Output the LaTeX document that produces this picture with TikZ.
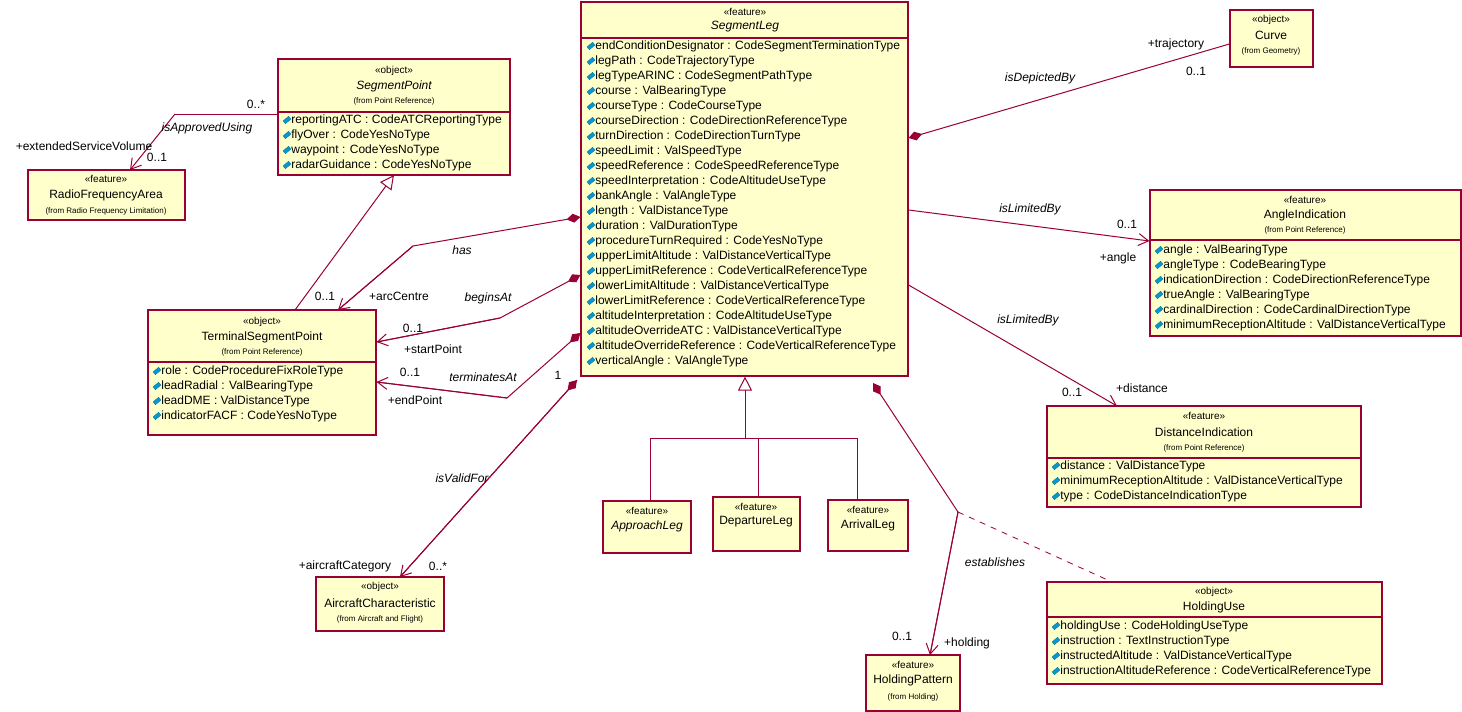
\documentclass[tikz,border=0pt]{standalone}
\usepackage{fontspec}
\setmainfont{Liberation Sans}
\usetikzlibrary{arrows.meta,fit}
\definecolor{umlred}{HTML}{990033}
\definecolor{umlfill}{HTML}{FFFFCC}
\tikzset{
  cls/.style={draw=umlred, fill=umlfill, inner sep=0pt, line width=0.6pt},
  sep/.style={draw=umlred, line width=0.6pt},
  stereo/.style={font=\fontsize{5}{6}\selectfont, inner sep=0pt},
  cname/.style={font=\fontsize{6}{7}\selectfont, inner sep=0pt},
  from/.style={font=\fontsize{4}{5}\selectfont, inner sep=0pt},
  attr/.style={font=\fontsize{6}{7}\selectfont, inner sep=0pt, anchor=west},
  icon/.style={fill=cyan!80!blue, draw=teal, line width=0.2pt, minimum width=3.6pt, minimum height=1.8pt, inner sep=0pt, rotate=40},
  lbl/.style={font=\fontsize{6}{7}\selectfont, inner sep=0pt},
  role/.style={font=\fontsize{6}{7}\selectfont\itshape, inner sep=0pt},
  assoc/.style={draw=umlred, line width=0.5pt},
  nav/.style={assoc, -{Straight Barb[length=5pt,width=6pt]}},
  comp/.style={assoc, {Diamond[length=7pt,width=4.5pt,fill=umlred]}-},
  gen/.style={assoc, -{Triangle[open,length=7pt,width=7pt,fill=white]}},
}
\newcommand{\attrs}[3]{%
  \foreach \t [count=\i from 0] in {#3} {
    \node[icon] at (#1+5,#2+15*\i) {};
    \node[attr] at (#1+9,#2+15*\i) {\t};
  }}
\begin{document}
\begin{tikzpicture}[x=0.5pt,y=-0.5pt]
\useasboundingbox (0,0) rectangle (1462,712);

% SegmentLeg
\node[cls, fit={(581,2) (908,376)}] (seg) {};
\node[stereo] at (745,12) {<<feature>>};
\node[cname,font=\fontsize{6}{7}\selectfont\itshape] at (745,27) {SegmentLeg};
\draw[sep] (seg.west |- 0,38) -- (seg.east |- 0,38);
\attrs{586}{46}{endConditionDesignator : CodeSegmentTerminationType,legPath : CodeTrajectoryType,legTypeARINC : CodeSegmentPathType,course : ValBearingType,courseType : CodeCourseType,courseDirection : CodeDirectionReferenceType,turnDirection : CodeDirectionTurnType,speedLimit : ValSpeedType,speedReference : CodeSpeedReferenceType,speedInterpretation : CodeAltitudeUseType,bankAngle : ValAngleType,length : ValDistanceType,duration : ValDurationType,procedureTurnRequired : CodeYesNoType,upperLimitAltitude : ValDistanceVerticalType,upperLimitReference : CodeVerticalReferenceType,lowerLimitAltitude : ValDistanceVerticalType,lowerLimitReference : CodeVerticalReferenceType,altitudeInterpretation : CodeAltitudeUseType,altitudeOverrideATC : ValDistanceVerticalType,altitudeOverrideReference : CodeVerticalReferenceType,verticalAngle : ValAngleType}

% SegmentPoint
\node[cls, fit={(278,59) (510,175)}] (segpt) {};
\node[stereo] at (394,71) {<<object>>};
\node[cname,font=\fontsize{6}{7}\selectfont\itshape] at (394,86) {SegmentPoint};
\node[from] at (394,101) {(from Point Reference)};
\draw[sep] (segpt.west |- 0,112) -- (segpt.east |- 0,112);
\attrs{282}{120}{reportingATC : CodeATCReportingType,flyOver : CodeYesNoType,waypoint : CodeYesNoType,radarGuidance : CodeYesNoType}

% RadioFrequencyArea
\node[cls, fit={(28,170) (185,220)}] (rfa) {};
\node[stereo] at (106,179) {<<feature>>};
\node[cname] at (106,195) {RadioFrequencyArea};
\node[from] at (106,211) {(from Radio Frequency Limitation)};

% TerminalSegmentPoint
\node[cls, fit={(148,310) (376,435)}] (tsp) {};
\node[stereo] at (262,322) {<<object>>};
\node[cname] at (262,337) {TerminalSegmentPoint};
\node[from] at (262,352) {(from Point Reference)};
\draw[sep] (tsp.west |- 0,362) -- (tsp.east |- 0,362);
\attrs{152}{371}{role : CodeProcedureFixRoleType,leadRadial : ValBearingType,leadDME : ValDistanceType,indicatorFACF : CodeYesNoType}

% Curve
\node[cls, fit={(1230,10) (1313,67)}] (curve) {};
\node[stereo] at (1271,20) {<<object>>};
\node[cname] at (1271,35) {Curve};
\node[from] at (1271,51) {(from Geometry)};

% AngleIndication
\node[cls, fit={(1150,190) (1461,336)}] (angle) {};
\node[stereo] at (1305,200) {<<feature>>};
\node[cname] at (1305,215) {AngleIndication};
\node[from] at (1305,230) {(from Point Reference)};
\draw[sep] (angle.west |- 0,240) -- (angle.east |- 0,240);
\attrs{1154}{250}{angle : ValBearingType,angleType : CodeBearingType,indicationDirection : CodeDirectionReferenceType,trueAngle : ValBearingType,cardinalDirection : CodeCardinalDirectionType,minimumReceptionAltitude : ValDistanceVerticalType}

% DistanceIndication
\node[cls, fit={(1047,406) (1361,507)}] (dist) {};
\node[stereo] at (1204,416) {<<feature>>};
\node[cname] at (1204,432) {DistanceIndication};
\node[from] at (1204,448) {(from Point Reference)};
\draw[sep] (dist.west |- 0,458) -- (dist.east |- 0,458);
\attrs{1051}{466}{distance : ValDistanceType,minimumReceptionAltitude : ValDistanceVerticalType,type : CodeDistanceIndicationType}

% sub legs
\node[cls, fit={(603,501) (691,553)}] (appr) {};
\node[stereo] at (647,511) {<<feature>>};
\node[cname,font=\fontsize{6}{7}\selectfont\itshape] at (647,526) {ApproachLeg};
\node[cls, fit={(713,497) (800,551)}] (dep) {};
\node[stereo] at (756,507) {<<feature>>};
\node[cname] at (756,522) {DepartureLeg};
\node[cls, fit={(828,500) (908,551)}] (arr) {};
\node[stereo] at (868,510) {<<feature>>};
\node[cname] at (868,525) {ArrivalLeg};

% AircraftCharacteristic
\node[cls, fit={(316,577) (444,631)}] (acft) {};
\node[stereo] at (380,587) {<<object>>};
\node[cname] at (380,603) {AircraftCharacteristic};
\node[from] at (380,619) {(from Aircraft and Flight)};

% HoldingUse
\node[cls, fit={(1047,582) (1382,684)}] (huse) {};
\node[stereo] at (1214,592) {<<object>>};
\node[cname] at (1214,607) {HoldingUse};
\draw[sep] (huse.west |- 0,617) -- (huse.east |- 0,617);
\attrs{1051}{626}{holdingUse : CodeHoldingUseType,instruction : TextInstructionType,instructedAltitude : ValDistanceVerticalType,instructionAltitudeReference : CodeVerticalReferenceType}

% HoldingPattern
\node[cls, fit={(866,655) (960,711)}] (hold) {};
\node[stereo] at (913,665) {<<feature>>};
\node[cname] at (913,680) {HoldingPattern};
\node[from] at (913,697) {(from Holding)};

% associations
\coordinate (bendHold) at (958,512);
\draw[comp] (seg.east |- 0,138) -- (curve.west |- 0,44);
\draw[assoc, -{Straight Barb[length=5pt,width=6pt]}] (seg.east |- 0,210) -- (angle.west |- 0,241);
\draw[nav] (seg.east |- 0,285) -- (1117,406);
\draw[comp] (873,383) -- (bendHold) -- (930,655);
\draw[nav] (bendHold) -- (930,655);
\draw[assoc, dashed, line width=0.4pt] (bendHold) -- (1112,582);
\draw[nav] (577,380) -- (400,577);
\draw[comp] (577,380) -- (400,577);
\draw[comp] (seg.west |- 0,333) -- (507,398) -- (tsp.east |- 0,382);
\draw[nav] (507,398) -- (tsp.east |- 0,382);
\draw[comp] (seg.west |- 0,275) -- (500,318) -- (tsp.east |- 0,342);
\draw[nav] (500,318) -- (tsp.east |- 0,342);
\draw[comp] (seg.west |- 0,217) -- (413,246) -- (338,310);
\draw[nav] (413,246) -- (338,310);
\draw[gen] (295,310) -- (394,175);
\coordinate (rfaBend) at (175,114);
\draw[assoc] (segpt.west |- 0,114) -- (rfaBend);
\draw[nav] (rfaBend) -- (130,170);

% generalisation tree
\draw[gen] (745,438) -- (seg.south -| 745,0);
\draw[assoc] (650,438) -- (857,438);
\draw[assoc] (650,438) -- (appr.north -| 650,0);
\draw[assoc] (758,438) -- (dep.north -| 758,0);
\draw[assoc] (857,438) -- (arr.north -| 857,0);

% labels
\node[role] at (1040,78) {isDepictedBy};
\node[lbl] at (1176,44) {+trajectory};
\node[lbl] at (1196,71) {0..1};
\node[role] at (1030,209) {isLimitedBy};
\node[lbl] at (1127,224) {0..1};
\node[lbl] at (1118,258) {+angle};
\node[role] at (1028,320) {isLimitedBy};
\node[lbl] at (1072,392) {0..1};
\node[lbl] at (1142,388) {+distance};
\node[role] at (995,562) {establishes};
\node[lbl] at (902,636) {0..1};
\node[lbl] at (967,643) {+holding};
\node[role] at (462,478) {isValidFor};
\node[lbl] at (558,375) {1};
\node[lbl] at (345,566) {+aircraftCategory};
\node[lbl] at (438,566) {0..*};
\node[role] at (483,377) {terminatesAt};
\node[lbl] at (410,372) {0..1};
\node[lbl] at (415,400) {+endPoint};
\node[role] at (488,298) {beginsAt};
\node[lbl] at (413,328) {0..1};
\node[lbl] at (433,349) {+startPoint};
\node[role] at (462,250) {has};
\node[lbl] at (325,296) {0..1};
\node[lbl] at (399,296) {+arcCentre};
\node[lbl] at (256,104) {0..*};
\node[role] at (207,128) {isApprovedUsing};
\node[lbl] at (84,146) {+extendedServiceVolume};
\node[lbl] at (157,157) {0..1};
\end{tikzpicture}
\end{document}
